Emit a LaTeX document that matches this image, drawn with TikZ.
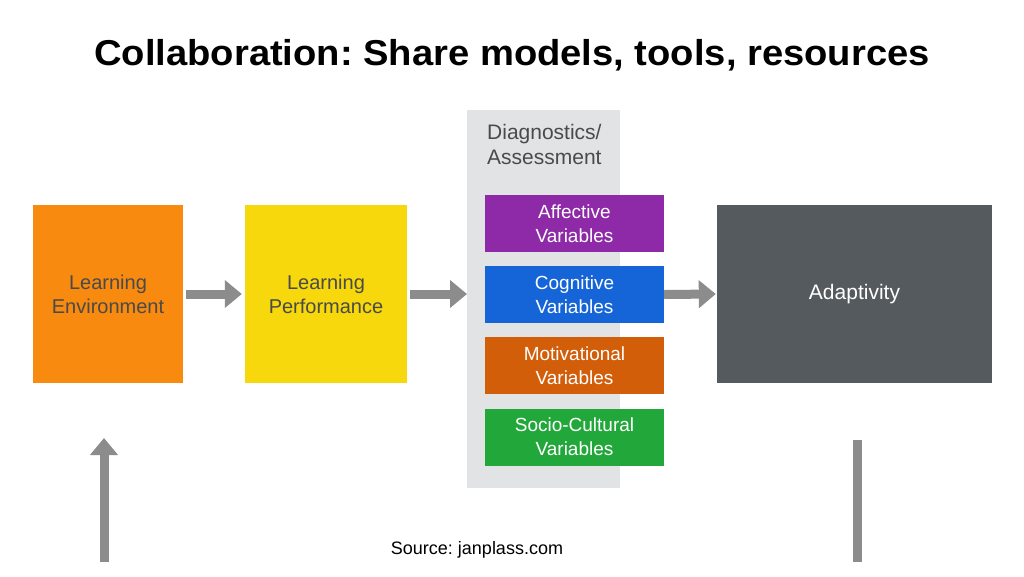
\documentclass[tikz,border=0pt]{standalone}
\usepackage{fontspec}
\setmainfont{Liberation Sans}
\frenchspacing
\usetikzlibrary{arrows.meta}
\definecolor{cOr}{HTML}{F78A0F}
\definecolor{cYe}{HTML}{F6D80C}
\definecolor{cPan}{HTML}{E2E3E5}
\definecolor{cPu}{HTML}{8E2AA8}
\definecolor{cBl}{HTML}{1565D8}
\definecolor{cBr}{HTML}{D35E0A}
\definecolor{cGr}{HTML}{22A83A}
\definecolor{cAd}{HTML}{555A5E}
\definecolor{cAr}{HTML}{8C8C8C}
\definecolor{cTx}{HTML}{4A4A4A}
\begin{document}
\begin{tikzpicture}[x=1pt,y=-1pt,
  big/.style={minimum height=178pt,align=center,font=\fontsize{20}{24}\selectfont,inner sep=0pt},
  var/.style={minimum width=179pt,minimum height=57pt,align=center,text=white,font=\fontsize{19}{24}\selectfont,inner sep=0pt},
  garrow/.style={cAr,line width=9pt,-{Triangle[length=17pt,width=27pt]}}]
\useasboundingbox (0,0) rectangle (1024,576);
\fill[white] (0,0) rectangle (1024,576);
\node[font=\bfseries\fontsize{36}{40}\selectfont,xscale=1.06,transform shape] (title) at (512,55) {Collaboration: Share models, tools, resources};
\fill[cPan] (467,110) rectangle (620,488);
\node[anchor=north west,align=left,text=cTx,font=\fontsize{21}{25}\selectfont,inner sep=0pt] (diag) at (487,124) {Diagnostics/\\Assessment};
\node[big,fill=cOr,minimum width=150pt,text=cTx] (le) at (108,294) {Learning\\Environment};
\node[big,fill=cYe,minimum width=162pt,text=cTx] (lp) at (326,294) {Learning\\Performance};
\node[var,fill=cPu] (aff) at (574.5,223.5) {Affective\\Variables};
\node[var,fill=cBl] (cog) at (574.5,294.5) {Cognitive\\Variables};
\node[var,fill=cBr] (mot) at (574.5,365.5) {Motivational\\Variables};
\node[var,fill=cGr] (soc) at (574.5,437) {Socio-Cultural\\Variables};
\node[big,fill=cAd,minimum width=275pt,text=white,font=\fontsize{21}{24}\selectfont] (ad) at (854.5,294) {Adaptivity};
\coordinate (pl) at (467,294);
\draw[garrow] (le.east) ++(3,0) -- ([xshift=-3pt]lp.west);
\draw[garrow] (lp.east) ++(3,0) -- (pl);
\draw[garrow] (cog.east) -- ([xshift=-1pt]ad.west);
\coordinate (b1) at (104,562);
\coordinate (t1) at (104,438);
\draw[garrow] (b1) -- (t1);
\coordinate (b2) at (857,562);
\coordinate (t2) at (857,440);
\draw[cAr,line width=9pt] (b2) -- (t2);
\node[font=\fontsize{18}{20}\selectfont] (src) at (477,550) {Source: janplass.com};
\end{tikzpicture}
\end{document}
